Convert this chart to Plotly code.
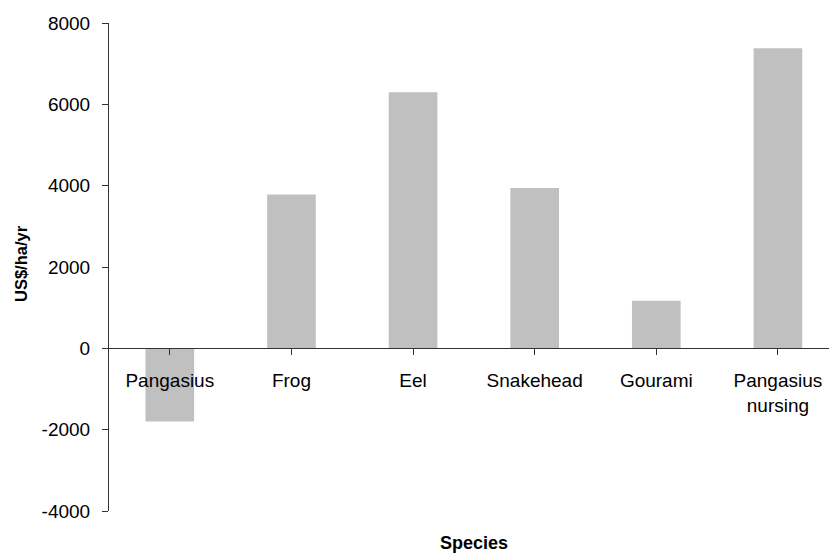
import plotly.graph_objects as go

# Net return by cultured species
species = ["Pangasius", "Frog", "Eel", "Snakehead", "Gourami", "Pangasius<br>nursing"]
net_return = [-1800, 3780, 6300, 3940, 1170, 7380]

y_min, y_max = -4000, 8000
y_ticks = [-4000, -2000, 0, 2000, 4000, 6000, 8000]

FONT = "Liberation Sans, Arial, sans-serif"

fig = go.Figure(
    go.Bar(
        x=list(range(len(species))),
        y=net_return,
        width=0.4,
        marker=dict(color="#C0C0C0", line=dict(width=0)),
        hoverinfo="skip",
    )
)

fig.update_layout(
    width=829,
    height=555,
    margin=dict(l=108.5, r=0, t=23, b=43.5),
    paper_bgcolor="white",
    plot_bgcolor="white",
    showlegend=False,
    font=dict(family=FONT, color="black", size=19),
    xaxis=dict(
        range=[-0.5, 5.42],
        tickmode="array",
        tickvals=list(range(len(species))),
        ticktext=species,
        showgrid=False,
        zeroline=False,
        showline=True,
        linecolor="#333333",
        linewidth=1,
        ticks="outside",
        tickson="boundaries",
        ticklen=6,
        tickcolor="#333333",
        ticklabelstandoff=9,
        anchor="free",
        position=(0 - y_min) / (y_max - y_min),
        tickfont=dict(size=19, color="black"),
    ),
    yaxis=dict(
        range=[y_min, y_max],
        tickmode="array",
        tickvals=y_ticks,
        ticktext=[str(v) for v in y_ticks],
        showgrid=False,
        zeroline=False,
        showline=True,
        linecolor="#333333",
        linewidth=1,
        ticks="outside",
        ticklen=6,
        tickcolor="#333333",
        ticklabelstandoff=8,
        tickfont=dict(size=19, color="black"),
    ),
    annotations=[
        dict(
            text="<b>Species</b>",
            xref="paper", yref="paper",
            x=(473.6 - 108.5) / (829 - 108.5), y=-0.066,
            xanchor="center", yanchor="middle",
            showarrow=False,
            font=dict(family=FONT, size=18, color="black"),
        ),
        dict(
            text="<b>US$/ha/yr</b>",
            xref="paper", yref="paper",
            x=-0.123, y=0.507,
            xanchor="center", yanchor="middle",
            textangle=-90,
            showarrow=False,
            font=dict(family=FONT, size=16.5, color="black"),
        ),
    ],
)

fig.write_html("out.html")
